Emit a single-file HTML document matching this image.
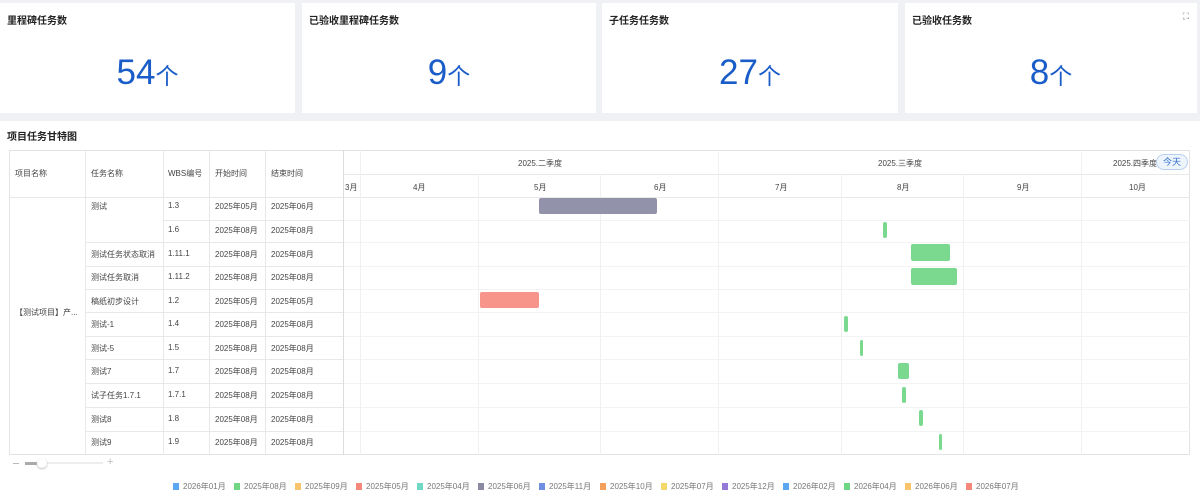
<!DOCTYPE html>
<html><head><meta charset="utf-8"><style>
*{margin:0;padding:0;box-sizing:border-box}
body{width:1200px;height:500px;background:#fff;font-family:"Liberation Sans","Noto Sans CJK SC",sans-serif;position:relative;overflow:hidden;color:#333}
.a{position:absolute}
.card{position:absolute;background:#fff;top:3px;height:110px}
.ct{position:absolute;left:7px;top:9px;font-size:10px;font-weight:bold;color:#222}
.cv{position:absolute;left:0;right:0;top:50px;text-align:center;color:#1a5dc8;font-size:35px;line-height:40px}
.cv span{font-size:23px}
.t{position:absolute;font-size:8px;color:#444;white-space:nowrap}
.hl{position:absolute;height:1px;background:#e8e8e8}
.vl{position:absolute;width:1px;background:#e8e8e8}
.bar{position:absolute;border-radius:2px}
.g{background:#7ad98f}
.lg{position:absolute;top:481px;font-size:8px;color:#777;white-space:nowrap}
.lg i{display:inline-block;width:6px;height:7px;margin-right:4px;vertical-align:-1px}
</style></head><body>
<div class="a" style="left:0;top:0;width:1200px;height:121px;background:#f0f1f5"></div>
<div class="card" style="left:0;width:295px"><div class="ct">里程碑任务数</div><div class="cv">54<span>个</span></div></div>
<div class="card" style="left:302px;width:294px"><div class="ct">已验收里程碑任务数</div><div class="cv">9<span>个</span></div></div>
<div class="card" style="left:602px;width:296px"><div class="ct">子任务任务数</div><div class="cv">27<span>个</span></div></div>
<div class="card" style="left:905px;width:292px"><div class="ct">已验收任务数</div><div class="cv">8<span>个</span></div><div class="a" style="right:8px;top:8px;font-size:9px;color:#777">⛶</div></div>
<div class="a" style="left:7px;top:128px;font-size:10px;font-weight:bold;color:#222">项目任务甘特图</div>

<div class="a" style="left:9px;top:150px;width:1181px;height:305px;border:1px solid #e3e3e3"></div>
<div class="hl" style="left:9px;top:197px;width:1181px"></div>
<div class="hl" style="left:343px;top:174px;width:847px"></div>
<div class="hl" style="left:163px;top:220px;width:180px"></div>
<div class="hl" style="left:85px;top:242px;width:258px"></div>
<div class="hl" style="left:85px;top:266px;width:258px"></div>
<div class="hl" style="left:85px;top:289px;width:258px"></div>
<div class="hl" style="left:85px;top:312px;width:258px"></div>
<div class="hl" style="left:85px;top:336px;width:258px"></div>
<div class="hl" style="left:85px;top:359px;width:258px"></div>
<div class="hl" style="left:85px;top:383px;width:258px"></div>
<div class="hl" style="left:85px;top:407px;width:258px"></div>
<div class="hl" style="left:85px;top:431px;width:258px"></div>
<div class="hl" style="left:343px;top:220px;width:847px;background:#f3f3f3"></div>
<div class="hl" style="left:343px;top:242px;width:847px;background:#f3f3f3"></div>
<div class="hl" style="left:343px;top:266px;width:847px;background:#f3f3f3"></div>
<div class="hl" style="left:343px;top:289px;width:847px;background:#f3f3f3"></div>
<div class="hl" style="left:343px;top:312px;width:847px;background:#f3f3f3"></div>
<div class="hl" style="left:343px;top:336px;width:847px;background:#f3f3f3"></div>
<div class="hl" style="left:343px;top:359px;width:847px;background:#f3f3f3"></div>
<div class="hl" style="left:343px;top:383px;width:847px;background:#f3f3f3"></div>
<div class="hl" style="left:343px;top:407px;width:847px;background:#f3f3f3"></div>
<div class="hl" style="left:343px;top:431px;width:847px;background:#f3f3f3"></div>
<div class="vl" style="left:85px;top:150px;height:305px"></div>
<div class="vl" style="left:163px;top:150px;height:305px"></div>
<div class="vl" style="left:209px;top:150px;height:305px"></div>
<div class="vl" style="left:265px;top:150px;height:305px"></div>
<div class="vl" style="left:343px;top:150px;height:305px;background:#ddd"></div>
<div class="vl" style="left:360px;top:150px;height:305px;background:#f0f0f0"></div>
<div class="vl" style="left:478px;top:174px;height:281px;background:#f0f0f0"></div>
<div class="vl" style="left:600px;top:174px;height:281px;background:#f0f0f0"></div>
<div class="vl" style="left:718px;top:150px;height:305px;background:#f0f0f0"></div>
<div class="vl" style="left:841px;top:174px;height:281px;background:#f0f0f0"></div>
<div class="vl" style="left:963px;top:174px;height:281px;background:#f0f0f0"></div>
<div class="vl" style="left:1081px;top:150px;height:305px;background:#f0f0f0"></div>
<div class="t" style="left:15px;top:168px">项目名称</div>
<div class="t" style="left:91px;top:168px">任务名称</div>
<div class="t" style="left:168px;top:168px">WBS编号</div>
<div class="t" style="left:215px;top:168px">开始时间</div>
<div class="t" style="left:271px;top:168px">结束时间</div>
<div class="t" style="left:518px;top:158px">2025.二季度</div>
<div class="t" style="left:878px;top:158px">2025.三季度</div>
<div class="t" style="left:1113px;top:158px">2025.四季度</div>
<div class="a" style="left:1156px;top:154px;width:32px;height:16px;border:1px solid #b8d0f0;border-radius:8px;background:#eef4fc;color:#2d6fd0;font-size:9px;text-align:center;line-height:14px">今天</div>
<div class="t" style="left:345px;top:182px">3月</div>
<div class="t" style="left:413px;top:182px">4月</div>
<div class="t" style="left:534px;top:182px">5月</div>
<div class="t" style="left:654px;top:182px">6月</div>
<div class="t" style="left:775px;top:182px">7月</div>
<div class="t" style="left:897px;top:182px">8月</div>
<div class="t" style="left:1017px;top:182px">9月</div>
<div class="t" style="left:1129px;top:182px">10月</div>
<div class="t" style="left:15px;top:307px">【测试项目】产...</div>
<div class="t" style="left:91px;top:201px">测试</div>
<div class="t" style="left:168px;top:201px">1.3</div><div class="t" style="left:215px;top:201px">2025年05月</div><div class="t" style="left:271px;top:201px">2025年06月</div>
<div class="t" style="left:168px;top:225px">1.6</div><div class="t" style="left:215px;top:225px">2025年08月</div><div class="t" style="left:271px;top:225px">2025年08月</div>
<div class="t" style="left:91px;top:249px">测试任务状态取消</div><div class="t" style="left:168px;top:249px">1.11.1</div><div class="t" style="left:215px;top:249px">2025年08月</div><div class="t" style="left:271px;top:249px">2025年08月</div>
<div class="t" style="left:91px;top:272px">测试任务取消</div><div class="t" style="left:168px;top:272px">1.11.2</div><div class="t" style="left:215px;top:272px">2025年08月</div><div class="t" style="left:271px;top:272px">2025年08月</div>
<div class="t" style="left:91px;top:296px">稿纸初步设计</div><div class="t" style="left:168px;top:296px">1.2</div><div class="t" style="left:215px;top:296px">2025年05月</div><div class="t" style="left:271px;top:296px">2025年05月</div>
<div class="t" style="left:91px;top:319px">测试-1</div><div class="t" style="left:168px;top:319px">1.4</div><div class="t" style="left:215px;top:319px">2025年08月</div><div class="t" style="left:271px;top:319px">2025年08月</div>
<div class="t" style="left:91px;top:343px">测试-5</div><div class="t" style="left:168px;top:343px">1.5</div><div class="t" style="left:215px;top:343px">2025年08月</div><div class="t" style="left:271px;top:343px">2025年08月</div>
<div class="t" style="left:91px;top:366px">测试7</div><div class="t" style="left:168px;top:366px">1.7</div><div class="t" style="left:215px;top:366px">2025年08月</div><div class="t" style="left:271px;top:366px">2025年08月</div>
<div class="t" style="left:91px;top:390px">试子任务1.7.1</div><div class="t" style="left:168px;top:390px">1.7.1</div><div class="t" style="left:215px;top:390px">2025年08月</div><div class="t" style="left:271px;top:390px">2025年08月</div>
<div class="t" style="left:91px;top:414px">测试8</div><div class="t" style="left:168px;top:414px">1.8</div><div class="t" style="left:215px;top:414px">2025年08月</div><div class="t" style="left:271px;top:414px">2025年08月</div>
<div class="t" style="left:91px;top:437px">测试9</div><div class="t" style="left:168px;top:437px">1.9</div><div class="t" style="left:215px;top:437px">2025年08月</div><div class="t" style="left:271px;top:437px">2025年08月</div>
<div class="bar" style="left:539px;top:198px;width:118px;height:16px;background:#9293ab"></div>
<div class="bar g" style="left:883px;top:222px;width:4px;height:16px"></div>
<div class="bar g" style="left:911px;top:244px;width:39px;height:17px"></div>
<div class="bar g" style="left:911px;top:268px;width:46px;height:17px"></div>
<div class="bar" style="left:480px;top:292px;width:59px;height:16px;background:#f7958a"></div>
<div class="bar g" style="left:844px;top:316px;width:4px;height:16px"></div>
<div class="bar g" style="left:860px;top:340px;width:3px;height:16px"></div>
<div class="bar g" style="left:898px;top:363px;width:11px;height:16px"></div>
<div class="bar g" style="left:902px;top:387px;width:4px;height:16px"></div>
<div class="bar g" style="left:919px;top:410px;width:4px;height:16px"></div>
<div class="bar g" style="left:939px;top:434px;width:3px;height:16px"></div>
<div class="a" style="left:13px;top:463px;width:6px;height:1px;background:#bbb"></div>
<div class="a" style="left:25px;top:462px;width:78px;height:2px;background:#eee"></div>
<div class="a" style="left:25px;top:462px;width:14px;height:3px;background:#aaa"></div>
<div class="a" style="left:37px;top:458px;width:10px;height:10px;border-radius:50%;background:#fff;box-shadow:0 1px 2px #bbb"></div>
<div class="a" style="left:107px;top:456px;font-size:11px;color:#bbb">+</div>
<div class="lg" style="left:173px"><i style="background:#5aa9f0"></i>2026年01月</div>
<div class="lg" style="left:234px"><i style="background:#6fd684"></i>2025年08月</div>
<div class="lg" style="left:295px"><i style="background:#f8c46e"></i>2025年09月</div>
<div class="lg" style="left:356px"><i style="background:#f7877b"></i>2025年05月</div>
<div class="lg" style="left:417px"><i style="background:#70d9c6"></i>2025年04月</div>
<div class="lg" style="left:478px"><i style="background:#8a8aa3"></i>2025年06月</div>
<div class="lg" style="left:539px"><i style="background:#6f8fe0"></i>2025年11月</div>
<div class="lg" style="left:600px"><i style="background:#f5a05a"></i>2025年10月</div>
<div class="lg" style="left:661px"><i style="background:#f5d86a"></i>2025年07月</div>
<div class="lg" style="left:722px"><i style="background:#9579d6"></i>2025年12月</div>
<div class="lg" style="left:783px"><i style="background:#5aa9f0"></i>2026年02月</div>
<div class="lg" style="left:844px"><i style="background:#6fd684"></i>2026年04月</div>
<div class="lg" style="left:905px"><i style="background:#f8c46e"></i>2026年06月</div>
<div class="lg" style="left:966px"><i style="background:#f7877b"></i>2026年07月</div>
</body></html>
